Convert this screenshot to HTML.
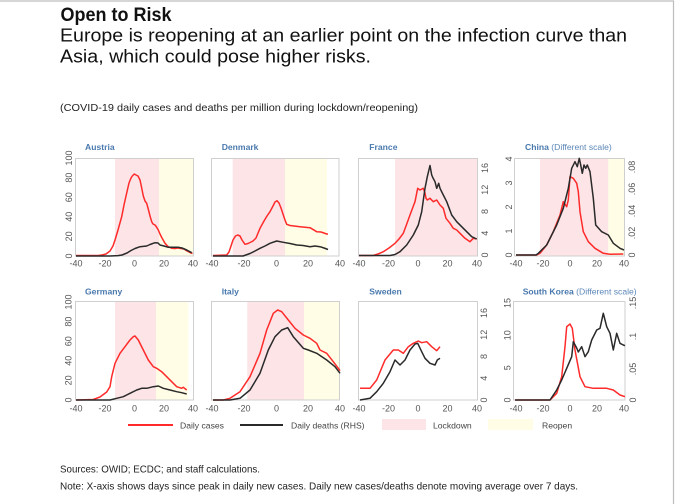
<!DOCTYPE html>
<html><head><meta charset="utf-8"><style>
html,body{margin:0;padding:0;background:#fff;}
svg{display:block;font-family:"Liberation Sans",Arial,sans-serif;}
.ax{font-size:9px;fill:#555;}
.tt{font-size:8.6px;font-weight:bold;fill:#4a79ae;}
.ts{font-size:8.6px;fill:#5b86b8;}
.fr{fill:none;stroke:#cfcfcf;stroke-width:1;}
.pk{fill:#fce4e7;}
.yl{fill:#fffde6;}
.r{fill:none;stroke:#ff2a2a;stroke-width:1.5;stroke-linejoin:round;}
.k{fill:none;stroke:#2a2a2a;stroke-width:1.5;stroke-linejoin:round;}
.lg{font-size:8.6px;fill:#444;}
</style></head><body>
<svg width="675" height="504" viewBox="0 0 675 504" xmlns="http://www.w3.org/2000/svg">
<rect x="0" y="0" width="675" height="504" fill="#fff"/>
<line x1="0" y1="1" x2="674" y2="1" stroke="#bdbdbd" stroke-width="1.2"/>
<line x1="673.5" y1="1" x2="673.5" y2="504" stroke="#bdbdbd" stroke-width="1.2"/>

<text x="60.5" y="21" font-size="19.5" font-weight="bold" fill="#111" textLength="111" lengthAdjust="spacingAndGlyphs">Open to Risk</text>
<text x="60" y="41.5" font-size="18.6" fill="#111" textLength="567" lengthAdjust="spacingAndGlyphs">Europe is reopening at an earlier point on the infection curve than</text>
<text x="60" y="62.5" font-size="18.6" fill="#111" textLength="311" lengthAdjust="spacingAndGlyphs">Asia, which could pose higher risks.</text>
<text x="60" y="111" font-size="10.3" fill="#222" textLength="358" lengthAdjust="spacingAndGlyphs">(COVID-19 daily cases and deaths per million during lockdown/reopening)</text>

<!-- ROW 1 -->
<!-- Austria -->
<rect class="pk" x="115" y="158" width="44" height="98"/>
<rect class="yl" x="159" y="158" width="34" height="98"/>
<rect class="fr" x="75.5" y="158.5" width="118" height="97.5"/>
<text class="tt" x="85" y="150">Austria</text>
<polyline class="r" points="76,255.5 98,255.5 102,255 106,254 110,251 113,246 115,240 118,230 121.7,216.7 124,205 126.7,193 129,183 131,178 132.3,176 134.3,174 136,175 138,176 140,180 141.5,187 143.3,196 145,201 146.7,203.3 148.5,210 150,216 151.7,221.7 153,224 155,225 156.5,227 158.3,230 160,234 162,238 165,243.3 168,246.5 171.7,248.3 175,248.5 178,248 181,248.5 184,249 187,251 190,252.5 192.5,253.5"/>
<polyline class="k" points="76,256 110,256 118,255.6 122,255 127,253 131,250.5 135,248.5 140,246.7 146.7,246 150,244.5 155,242.7 158,243 160,245 164,246 168.3,247.3 178,247.3 182,248 186.7,250 191.7,252.7"/>
<g class="ax" text-anchor="middle">
<text transform="translate(69,256) rotate(-90)" dy="0.35em">0</text>
<text transform="translate(69,236.4) rotate(-90)" dy="0.35em">20</text>
<text transform="translate(69,216.8) rotate(-90)" dy="0.35em">40</text>
<text transform="translate(69,197.2) rotate(-90)" dy="0.35em">60</text>
<text transform="translate(69,177.6) rotate(-90)" dy="0.35em">80</text>
<text transform="translate(69,158) rotate(-90)" dy="0.35em">100</text>
<text x="76" y="266.5">-40</text><text x="105" y="266.5">-20</text><text x="134.5" y="266.5">0</text><text x="164" y="266.5">20</text><text x="193" y="266.5">40</text>
</g>

<!-- Denmark -->
<rect class="pk" x="232.7" y="158" width="52.3" height="98"/>
<rect class="yl" x="285" y="158" width="42" height="98"/>
<rect class="fr" x="211.5" y="158.5" width="127.5" height="97.5"/>
<text class="tt" x="221.7" y="150">Denmark</text>
<polyline class="r" points="213,255.5 226.7,255 229,252 231,246 233,240 235.5,236 237.7,235 240,236 242,240 245,244.3 248,243.5 250,242.5 253,241 256,238 260,228.3 264,221 267,216 270,211.7 273,206 275,202 277,200.7 279,203 281,208 283.3,215 285,220 286.7,224.3 290,225.5 300,226.7 310,227.7 316.7,231.7 321,232 326.7,234 328,234"/>
<polyline class="k" points="213,256 243,256 250,253.5 255,251 260,248.3 265,246 270,243.3 276.7,241 283.3,242.3 290,243.5 296.7,245 303,245.5 310,246.7 315,246 320,246.7 324,248 326.7,249 328,249.5"/>
<g class="ax" text-anchor="middle">
<text x="212" y="266.5">-40</text><text x="244" y="266.5">-20</text><text x="276.5" y="266.5">0</text><text x="308" y="266.5">20</text><text x="340" y="266.5">40</text>
</g>

<!-- France -->
<rect class="pk" x="395" y="158" width="83" height="98"/>
<rect class="fr" x="358.5" y="158.5" width="119" height="97.5"/>
<text class="tt" x="369.3" y="150">France</text>
<polyline class="r" points="359,255.5 373,255.5 378,254 383.3,251.7 389,248 395,243.3 399,239 403.3,233.3 406,226 410,215 413,207 415,201.7 417.7,188.3 420,190 423.3,188.3 425,193 426,198.3 427.3,200 430,198.3 433.3,201.7 436.7,200 440,205 443.3,208.3 446,218.3 450,223.3 453.3,228.3 456.7,230 460,233.3 465,238.3 470,241.7 473.3,238.3 476.7,239"/>
<polyline class="k" points="359,255.5 390,255.5 395,254.5 400,251.7 406.7,245 413.3,235 418.3,225 421.7,211.7 425,188.3 427.3,176.7 430,165.5 431.7,175 433,178 435,181.7 436.7,188.3 438.7,183.3 440,188.3 443.3,195 446.7,201.7 451.7,215 456.7,221.7 461.7,226.7 466.7,231.7 471.7,236.7 476.7,239"/>
<g class="ax" text-anchor="middle">
<text transform="translate(485,255) rotate(-90)" dy="0.35em">0</text>
<text transform="translate(485,233.2) rotate(-90)" dy="0.35em">4</text>
<text transform="translate(485,211.5) rotate(-90)" dy="0.35em">8</text>
<text transform="translate(485,189.7) rotate(-90)" dy="0.35em">12</text>
<text transform="translate(485,168) rotate(-90)" dy="0.35em">16</text>
<text x="359" y="266.5">-40</text><text x="388.5" y="266.5">-20</text><text x="418" y="266.5">0</text><text x="447.5" y="266.5">20</text><text x="477" y="266.5">40</text>
</g>

<!-- China -->
<rect class="pk" x="540" y="158" width="68.3" height="98"/>
<rect class="yl" x="608.3" y="158" width="15.7" height="98"/>
<rect class="fr" x="514.5" y="158.5" width="110" height="97.5"/>
<text x="525" y="150"><tspan class="tt">China</tspan><tspan class="ts"> (Different scale)</tspan></text>
<polyline class="r" points="516,255 536.7,255 540,253.3 546.7,245 553.3,231.7 560,215 563.3,201.7 566.7,206.7 568.3,200 570,176.7 573.3,178.3 576.7,183.3 578.3,191.7 580,211.7 583.3,231.7 588.3,241.7 595,248.3 603.3,253.3 610,254.3 623.3,254"/>
<polyline class="k" points="516,255 536,255 538.3,253.3 546.7,245 556.7,225 563.3,208.3 568.3,188.3 571.7,168.3 575,161.7 577.3,166.7 579.3,158.3 580.7,165 582.3,173.3 584,165 585.7,168.3 587.3,165 590,171.7 593.3,198.3 595.7,225 601.7,231.7 608.3,235 613.3,243.3 620,248.3 624,250"/>
<g class="ax" text-anchor="middle">
<text transform="translate(509,255) rotate(-90)" dy="0.35em">0</text>
<text transform="translate(509,231) rotate(-90)" dy="0.35em">1</text>
<text transform="translate(509,207) rotate(-90)" dy="0.35em">2</text>
<text transform="translate(509,183) rotate(-90)" dy="0.35em">3</text>
<text transform="translate(509,159) rotate(-90)" dy="0.35em">4</text>
<text transform="translate(632,255) rotate(-90)" dy="0.35em">0</text>
<text transform="translate(632,233) rotate(-90)" dy="0.35em">.02</text>
<text transform="translate(632,211) rotate(-90)" dy="0.35em">.04</text>
<text transform="translate(632,189) rotate(-90)" dy="0.35em">.06</text>
<text transform="translate(632,167) rotate(-90)" dy="0.35em">.08</text>
<text x="516" y="266.5">-40</text><text x="543" y="266.5">-20</text><text x="570" y="266.5">0</text><text x="597" y="266.5">20</text><text x="624" y="266.5">40</text>
</g>

<!-- ROW 2 -->
<!-- Germany -->
<rect class="pk" x="115" y="301" width="41" height="99"/>
<rect class="yl" x="156" y="301" width="32.3" height="99"/>
<rect class="fr" x="75.5" y="301.5" width="118" height="98.5"/>
<text class="tt" x="85" y="294.5">Germany</text>
<polyline class="r" points="76,400 93.3,399.5 100,397 106.7,392 110,386.7 111.7,376.7 115,363.3 120,353.3 125,346.7 130,340 133.3,336.7 135,336 138.3,340 143.3,350 148.3,360 153.3,366.7 156.7,368.3 161.7,371.7 166.7,376.7 171.7,381.7 176.7,386.7 181.7,388.3 183.3,387.3 186.7,390"/>
<polyline class="k" points="76,400 110,400 116.7,398.3 123.3,396.7 130,393.3 136.7,390 141.7,388.3 146.7,388.3 153.3,386.7 158.3,386 163.3,388.3 170,390 176.7,391.7 181.7,392.7 186.7,394"/>
<g class="ax" text-anchor="middle">
<text transform="translate(68.5,400) rotate(-90)" dy="0.35em">0</text>
<text transform="translate(68.5,380.4) rotate(-90)" dy="0.35em">20</text>
<text transform="translate(68.5,360.8) rotate(-90)" dy="0.35em">40</text>
<text transform="translate(68.5,341.2) rotate(-90)" dy="0.35em">60</text>
<text transform="translate(68.5,321.6) rotate(-90)" dy="0.35em">80</text>
<text transform="translate(68.5,302) rotate(-90)" dy="0.35em">100</text>
<text x="76" y="411.5">-40</text><text x="105" y="411.5">-20</text><text x="134.5" y="411.5">0</text><text x="164" y="411.5">20</text><text x="193" y="411.5">40</text>
</g>

<!-- Italy -->
<rect class="pk" x="247.3" y="301" width="56.7" height="99"/>
<rect class="yl" x="304" y="301" width="35.5" height="99"/>
<rect class="fr" x="211.5" y="301.5" width="128" height="98.5"/>
<text class="tt" x="221.7" y="294.5">Italy</text>
<polyline class="r" points="213,400 223.3,400 230,398.3 240,391.7 250,376.7 260,353.3 266.7,330 273.3,313.3 277.7,310 281.7,311.7 288.3,320 295,328.3 303.3,335 310,338.3 316.7,343.3 320,350 326.7,353.3 333.3,361.7 338.3,368.3 340,370.7"/>
<polyline class="k" points="213,400 230,400 240,398.3 250,390 260,373.3 268.3,350 275,336.7 281.7,330 287.7,327.7 293.3,336.7 303.3,348.3 308.3,350 316.7,353.3 326.7,360 335,366.7 340,373.3"/>
<g class="ax" text-anchor="middle">
<text x="212" y="411.5">-40</text><text x="244" y="411.5">-20</text><text x="276.5" y="411.5">0</text><text x="308" y="411.5">20</text><text x="340" y="411.5">40</text>
</g>

<!-- Sweden -->
<rect class="fr" x="358.5" y="301.5" width="119" height="98.5"/>
<text class="tt" x="369.3" y="294.5">Sweden</text>
<polyline class="r" points="360,388.3 370,388.3 376.7,380 385,360 393.3,350 398.3,350 403.3,353.3 408.3,346.7 413.3,343.3 418.3,341 421.7,342.7 426.7,341.7 431.7,346.7 436.7,350.7 440,346.7"/>
<polyline class="k" points="360,400 370,398.3 376.7,391.7 383.3,383.3 390,371.7 395,360 400,365 405,360 410,350 415,344 417.7,343.3 421.7,351.7 425,358.3 430,363.3 435,365 437.3,360 440,358.3"/>
<g class="ax" text-anchor="middle">
<text transform="translate(484,400) rotate(-90)" dy="0.35em">0</text>
<text transform="translate(484,378.2) rotate(-90)" dy="0.35em">4</text>
<text transform="translate(484,356.5) rotate(-90)" dy="0.35em">8</text>
<text transform="translate(484,334.7) rotate(-90)" dy="0.35em">12</text>
<text transform="translate(484,313) rotate(-90)" dy="0.35em">16</text>
<text x="359" y="411.5">-40</text><text x="388.5" y="411.5">-20</text><text x="418" y="411.5">0</text><text x="447.5" y="411.5">20</text><text x="477" y="411.5">40</text>
</g>

<!-- South Korea -->
<rect class="fr" x="513.5" y="301.5" width="111.5" height="98.5"/>
<text x="522.7" y="294.5"><tspan class="tt">South Korea</tspan><tspan class="ts"> (Different scale)</tspan></text>
<polyline class="r" points="515,400 550,400 556.7,393.3 561.7,376.7 565,346.7 566.7,326.7 570,324 572.3,328.3 575,350 580,376.7 585,386.7 593.3,388.3 606.7,388.3 613.3,390 620,395 625,396.7"/>
<polyline class="k" points="515,400 550,400 556.7,390 561.7,380 566.7,368.3 571.7,356.7 573.3,341.7 576.7,348 578.3,352 581.7,346.7 585,356.7 588.3,351.7 591.7,340 596.7,330 600,328.3 603.3,313.3 606.7,326.7 610,333.3 613.3,350 616.7,333.3 620,343.3 623.3,345 625,345.7"/>
<g class="ax" text-anchor="middle">
<text transform="translate(507.5,400) rotate(-90)" dy="0.35em">0</text>
<text transform="translate(507.5,367.7) rotate(-90)" dy="0.35em">5</text>
<text transform="translate(507.5,335.3) rotate(-90)" dy="0.35em">10</text>
<text transform="translate(507.5,303) rotate(-90)" dy="0.35em">15</text>
<text transform="translate(633,400) rotate(-90)" dy="0.35em">0</text>
<text transform="translate(633,369) rotate(-90)" dy="0.35em">.05</text>
<text transform="translate(633,336.5) rotate(-90)" dy="0.35em">.1</text>
<text transform="translate(633,303) rotate(-90)" dy="0.35em">.15</text>
<text x="516" y="411.5">-40</text><text x="543" y="411.5">-20</text><text x="570" y="411.5">0</text><text x="597" y="411.5">20</text><text x="624" y="411.5">40</text>
</g>

<!-- Legend -->
<line x1="128" y1="425" x2="173" y2="425" stroke="#ff2a2a" stroke-width="2"/>
<text class="lg" x="180" y="428.5">Daily cases</text>
<line x1="240" y1="425" x2="283" y2="425" stroke="#2a2a2a" stroke-width="2"/>
<text class="lg" x="291" y="428.5">Daily deaths (RHS)</text>
<rect x="382" y="419" width="44" height="11" fill="#fce4e7"/>
<text class="lg" x="433" y="428.5">Lockdown</text>
<rect x="488" y="419" width="45" height="11" fill="#fffde6"/>
<text class="lg" x="542" y="428.5">Reopen</text>

<!-- Footnotes -->
<text x="60" y="472.5" font-size="10.3" fill="#222" textLength="200" lengthAdjust="spacingAndGlyphs">Sources: OWID; ECDC; and staff calculations.</text>
<text x="60" y="489.5" font-size="10.3" fill="#222" textLength="518" lengthAdjust="spacingAndGlyphs">Note: X-axis shows days since peak in daily new cases. Daily new cases/deaths denote moving average over 7 days.</text>
</svg>
</body></html>
